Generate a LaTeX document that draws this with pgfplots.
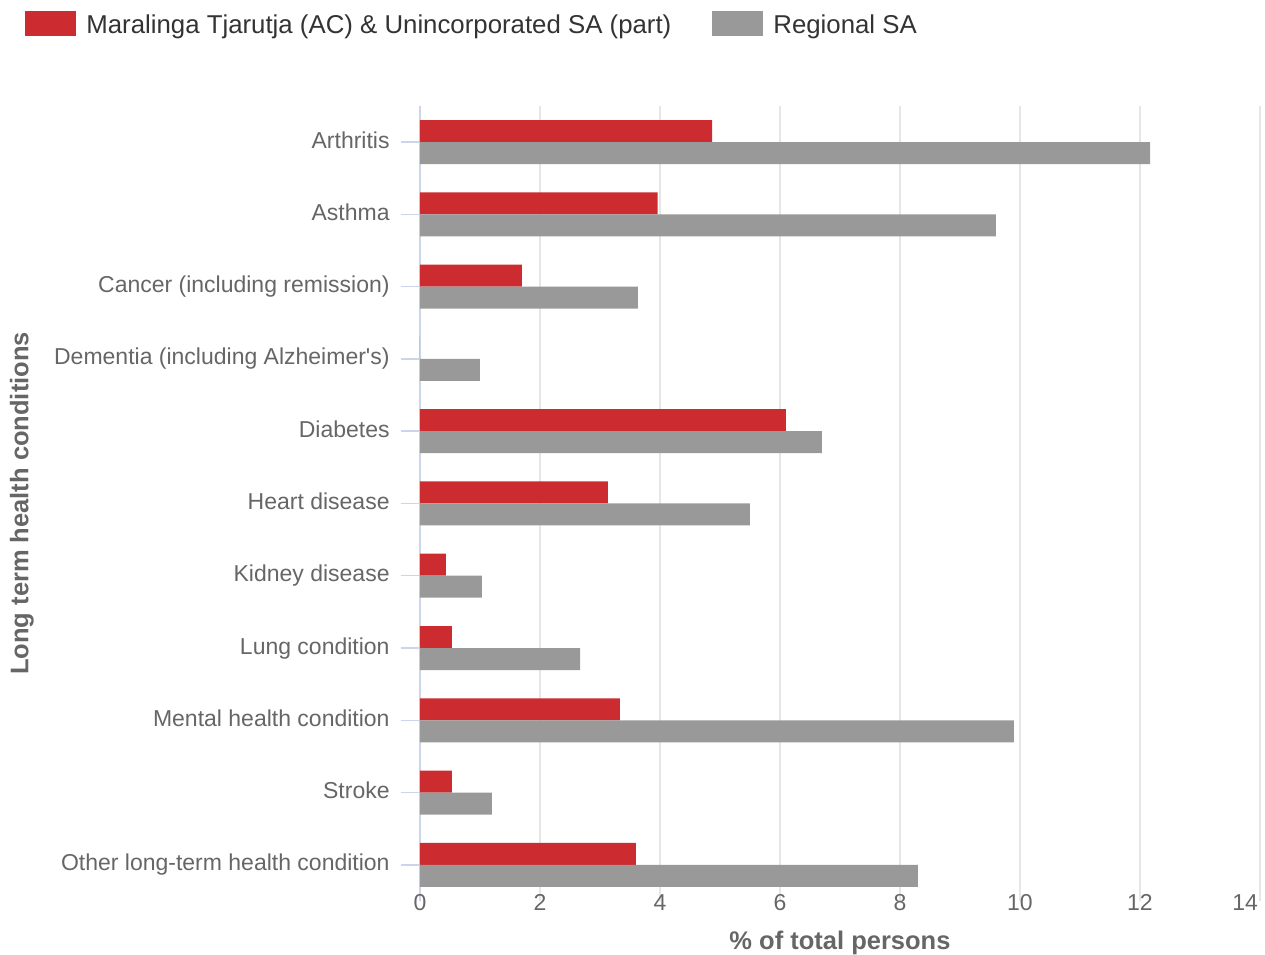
\documentclass[border=0pt]{standalone}
\usepackage{pgfplots}
\pgfplotsset{compat=1.18}
\usepackage{fontspec}
\setmainfont{Liberation Sans}
\definecolor{redbar}{HTML}{CC2C30}
\definecolor{graybar}{HTML}{999999}
\definecolor{gridc}{HTML}{E6E6E6}
\definecolor{axisc}{HTML}{CCD6EB}
\definecolor{labc}{HTML}{666666}
\definecolor{legc}{HTML}{333333}
\begin{document}
\begin{tikzpicture}
\begin{axis}[
  scale only axis, width=420pt, height=397.5pt,
  xbar, bar width=11pt,
  xmin=0, xmax=14, ymin=-0.5, ymax=10.5,
  axis lines*=left, axis line style={-},
  x axis line style={draw=none},
  y axis line style={draw=axisc, line width=0.75pt},
  xmajorgrids, major grid style={draw=gridc, line width=0.6pt},
  xtick={0,2,...,14},
  xticklabels={0,2,4,6,8,10,12,{\hbox to 0pt{\hss 14\kern1pt}}},
  ytick={0,...,10},
  yticklabels={Other long-term health condition,Stroke,Mental health condition,Lung condition,Kidney disease,Heart disease,Diabetes,Dementia (including Alzheimer\textquotesingle s),Cancer (including remission),Asthma,Arthritis},
  tick align=outside, major tick length=9.5pt,
  xtick style={draw=none},
  ytick style={draw=axisc, line width=0.75pt},
  xticklabel style={font=\fontsize{11.5}{13}\selectfont, text=labc, anchor=base, inner sep=0pt, yshift=4.5pt},
  yticklabel style={font=\fontsize{11.5}{13}\selectfont, text=labc, anchor=base east, inner sep=0pt, xshift=-5.5pt, yshift=-3pt},
  xlabel={\% of total persons},
  xlabel style={at={(axis description cs:0.5,-0.0605)}, anchor=base, font=\bfseries\fontsize{12.75}{15}\selectfont, text=labc, inner sep=0pt},
  ylabel={Long term health conditions},
  ylabel style={at={(axis description cs:-0.474,0.5)}, anchor=center, font=\bfseries\fontsize{12.75}{15}\selectfont, text=labc, inner sep=0pt},
  legend style={at={(axis description cs:-0.47024,1.1195)}, anchor=north west, draw=none, fill=none, inner sep=0pt, font=\fontsize{12.9}{15}\selectfont, text=legc, legend columns=-1, nodes={inner sep=0pt},
    /tikz/every odd column/.append style={column sep=5pt},
    /tikz/every even column/.append style={column sep=20.5pt}},
  legend image code/.code={\fill[#1] (0pt,-5.4pt) rectangle (25.5pt,7pt);},
]
\addplot[fill=redbar, draw=none, bar shift=5.5pt] coordinates {
  (3.6,0) (0.53,1) (3.33,2) (0.53,3) (0.43,4) (3.13,5) (6.1,6) (0,7) (1.7,8) (3.96,9) (4.87,10)};
\addplot[fill=graybar, draw=none, bar shift=-5.5pt] coordinates {
  (8.3,0) (1.2,1) (9.9,2) (2.67,3) (1.03,4) (5.5,5) (6.7,6) (1.0,7) (3.63,8) (9.6,9) (12.17,10)};
\legend{Maralinga Tjarutja (AC) \& Unincorporated SA (part), Regional SA}
\coordinate (bbsw) at (axis description cs:-0.5,-0.0679);
\coordinate (bbne) at (axis description cs:1.00595,1.1333);
\end{axis}
\pgfresetboundingbox
\useasboundingbox (bbsw) rectangle (bbne);
\end{tikzpicture}
\end{document}
